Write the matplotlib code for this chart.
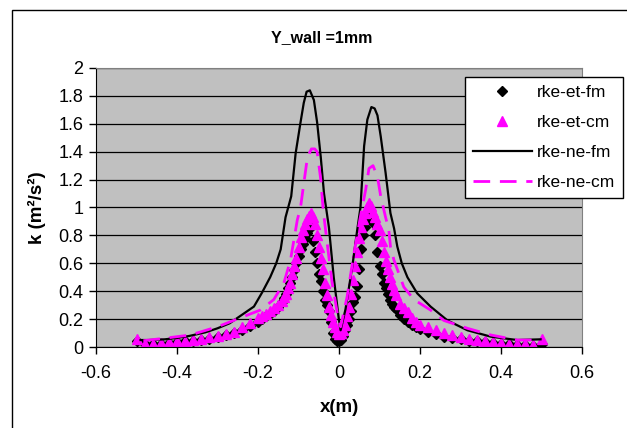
import matplotlib
matplotlib.use('Agg')
import matplotlib.pyplot as plt
from matplotlib.patches import Rectangle

plt.rcParams['font.family'] = ['Liberation Sans', 'DejaVu Sans']

# shared x positions of the scatter series
x_pts = [-0.50, -0.48, -0.46, -0.44, -0.42, -0.40, -0.38, -0.36, -0.34, -0.32,
         -0.30, -0.28, -0.26, -0.24, -0.22, -0.20, -0.19, -0.18, -0.17, -0.16,
         -0.15, -0.14, -0.135, -0.13, -0.125, -0.12, -0.115, -0.11, -0.105, -0.10,
         -0.095, -0.09, -0.085, -0.08, -0.075, -0.07, -0.065, -0.06, -0.055, -0.05,
         -0.045, -0.04, -0.035, -0.03, -0.025, -0.02, -0.015, -0.01, -0.005, 0.0,
         0.005, 0.01, 0.015, 0.02, 0.025, 0.03, 0.035, 0.04, 0.045, 0.05,
         0.055, 0.06, 0.065, 0.07, 0.075, 0.08, 0.085, 0.09, 0.095, 0.10,
         0.105, 0.11, 0.115, 0.12, 0.125, 0.13, 0.135, 0.14, 0.15, 0.16,
         0.17, 0.18, 0.19, 0.20, 0.22, 0.24, 0.26, 0.28, 0.30, 0.32,
         0.34, 0.36, 0.38, 0.40, 0.42, 0.44, 0.46, 0.48, 0.50]

k_et_fm = [0.04, 0.02, 0.02, 0.025, 0.03, 0.035, 0.04, 0.045, 0.05, 0.06,
           0.07, 0.085, 0.10, 0.12, 0.15, 0.18, 0.20, 0.22, 0.24, 0.26,
           0.29, 0.32, 0.35, 0.38, 0.42, 0.46, 0.50, 0.55, 0.60, 0.65,
           0.70, 0.74, 0.78, 0.82, 0.85, 0.86, 0.76, 0.68, 0.60, 0.52,
           0.47, 0.40, 0.34, 0.30, 0.26, 0.18, 0.10, 0.06, 0.04, 0.04,
           0.05, 0.08, 0.12, 0.16, 0.20, 0.26, 0.32, 0.36, 0.44, 0.56,
           0.70, 0.80, 0.86, 0.92, 0.94, 0.93, 0.89, 0.80, 0.68, 0.58,
           0.52, 0.46, 0.42, 0.38, 0.34, 0.31, 0.29, 0.27, 0.23, 0.20,
           0.18, 0.16, 0.14, 0.13, 0.11, 0.09, 0.075, 0.065, 0.055, 0.045,
           0.04, 0.035, 0.03, 0.025, 0.02, 0.015, 0.015, 0.01, 0.02]

k_et_cm = [0.06, 0.02, 0.025, 0.03, 0.035, 0.04, 0.045, 0.05, 0.06, 0.07,
           0.08, 0.095, 0.11, 0.14, 0.17, 0.21, 0.22, 0.24, 0.26, 0.28,
           0.30, 0.33, 0.36, 0.38, 0.42, 0.46, 0.52, 0.58, 0.64, 0.72,
           0.79, 0.84, 0.88, 0.92, 0.94, 0.96, 0.93, 0.88, 0.80, 0.72,
           0.64, 0.56, 0.46, 0.37, 0.29, 0.23, 0.18, 0.14, 0.11, 0.09,
           0.10, 0.12, 0.16, 0.22, 0.29, 0.38, 0.48, 0.58, 0.68, 0.78,
           0.86, 0.92, 0.96, 1.00, 1.03, 1.01, 0.97, 0.93, 0.88, 0.84,
           0.76, 0.68, 0.62, 0.56, 0.50, 0.45, 0.41, 0.37, 0.31, 0.28,
           0.25, 0.21, 0.18, 0.16, 0.14, 0.12, 0.10, 0.085, 0.07, 0.06,
           0.05, 0.04, 0.035, 0.03, 0.025, 0.02, 0.02, 0.015, 0.06]

x_ne_fm = [-0.49, -0.47, -0.43, -0.40, -0.37, -0.33, -0.30, -0.27, -0.25, -0.23,
           -0.21, -0.19, -0.17, -0.155, -0.144, -0.132, -0.118, -0.107, -0.095, -0.087,
           -0.08, -0.072, -0.062, -0.054, -0.045, -0.037, -0.025, -0.013, 0.0, 0.004,
           0.016, 0.033, 0.045, 0.053, 0.062, 0.070, 0.080, 0.088, 0.095, 0.103,
           0.115, 0.127, 0.136, 0.144, 0.155, 0.169, 0.193, 0.226, 0.268, 0.317,
           0.375, 0.44, 0.498]
k_ne_fm = [0.05, 0.05, 0.055, 0.065, 0.079, 0.105, 0.134, 0.17, 0.21, 0.25,
           0.29, 0.39, 0.50, 0.60, 0.70, 0.93, 1.08, 1.39, 1.61, 1.75,
           1.83, 1.84, 1.77, 1.61, 1.36, 1.10, 0.86, 0.50, 0.19, 0.12,
           0.27, 0.58, 0.84, 1.00, 1.44, 1.63, 1.72, 1.71, 1.66, 1.51,
           1.25, 0.96, 0.85, 0.72, 0.60, 0.50, 0.385, 0.29, 0.19, 0.12,
           0.074, 0.05, 0.055]

x_ne_cm = [-0.483, -0.433, -0.367, -0.30, -0.243, -0.194, -0.161, -0.136, -0.12, -0.103,
           -0.095, -0.087, -0.078, -0.068, -0.060, -0.054, -0.045, -0.039, -0.029, -0.017,
           -0.004, 0.004, 0.02, 0.037, 0.052, 0.066, 0.074, 0.084, 0.095, 0.103,
           0.115, 0.123, 0.127, 0.136, 0.160, 0.185, 0.226, 0.259, 0.317, 0.375,
           0.44, 0.5]
k_ne_cm = [0.045, 0.062, 0.086, 0.145, 0.21, 0.265, 0.34, 0.46, 0.62, 0.91,
           1.00, 1.17, 1.36, 1.42, 1.42, 1.40, 1.20, 0.98, 0.74, 0.46,
           0.24, 0.145, 0.36, 0.67, 0.92, 1.13, 1.28, 1.30, 1.22, 1.08,
           0.93, 0.84, 0.72, 0.62, 0.43, 0.34, 0.265, 0.19, 0.134, 0.086,
           0.05, 0.05]

labels = ['rke-et-fm', 'rke-et-cm', 'rke-ne-fm', 'rke-ne-cm']
x_ticks = [-0.6, -0.4, -0.2, 0, 0.2, 0.4, 0.6]
y_ticks = [0, 0.2, 0.4, 0.6, 0.8, 1, 1.2, 1.4, 1.6, 1.8, 2]

W, H = 627, 428
fig = plt.figure(figsize=(W / 100, H / 100), dpi=100)

# outer chart border (runs off the right and bottom edges)
fig.patches.append(Rectangle((12 / W, -0.1), 1.0, 1.1 - 10 / H,
                             transform=fig.transFigure, fill=False,
                             edgecolor='black', linewidth=1))

ax = fig.add_axes([96 / W, 1 - 347 / H, (582 - 96) / W, (347 - 68) / H])
ax.set_facecolor('#C0C0C0')

ax.plot(x_pts, k_et_fm, linestyle='none', marker='D', markersize=5.5,
        color='black', label=labels[0])
ax.plot(x_pts, k_et_cm, linestyle='none', marker='^', markersize=7.5,
        color='#FF00FF', label=labels[1])
ax.plot(x_ne_fm, k_ne_fm, color='black', linewidth=1.6, label=labels[2])
ax.plot(x_ne_cm, k_ne_cm, color='#FF00FF', linewidth=2.0,
        dashes=(6, 3.5), label=labels[3])

ax.set_xlim(-0.6, 0.6)
ax.set_ylim(0, 2)
ax.set_xticks(x_ticks)
ax.set_xticklabels(['-0.6', '-0.4', '-0.2', '0', '0.2', '0.4', '0.6'])
ax.set_yticks(y_ticks)
ax.set_yticklabels(['0', '0.2', '0.4', '0.6', '0.8', '1', '1.2', '1.4', '1.6', '1.8', '2'])
ax.tick_params(direction='out', length=5, width=1, labelsize=13, pad=4)
ax.tick_params(axis='x', pad=8)
ax.yaxis.grid(True, color='black', linewidth=0.9)
ax.set_axisbelow(True)
for s in ['top', 'right']:
    ax.spines[s].set_color('#808080')
for s in ['left', 'bottom']:
    ax.spines[s].set_color('black')

fig.text(322 / W, 1 - 38 / H, 'Y_wall =1mm', ha='center', va='center',
         fontsize=11.5, fontweight='bold')
ax.set_xlabel('x(m)', fontsize=13.5, fontweight='bold', va='center')
ax.xaxis.set_label_coords(0.5, (347 - 407) / (347 - 68))
ax.set_ylabel('k (m²/s²)', fontsize=13.5, fontweight='bold', va='center')
ax.yaxis.set_label_coords((37 - 96) / (582 - 96), 0.5)

leg = ax.legend(loc='upper left', bbox_to_anchor=(465 / W, 1 - 77 / H),
                bbox_transform=fig.transFigure, fontsize=12.5, frameon=True,
                fancybox=False, edgecolor='black', framealpha=1,
                handlelength=3.4, handletextpad=0.3, labelspacing=0.85,
                borderpad=0.45, borderaxespad=0)
leg.get_frame().set_linewidth(1)

fig.savefig('out.png', dpi=100)
